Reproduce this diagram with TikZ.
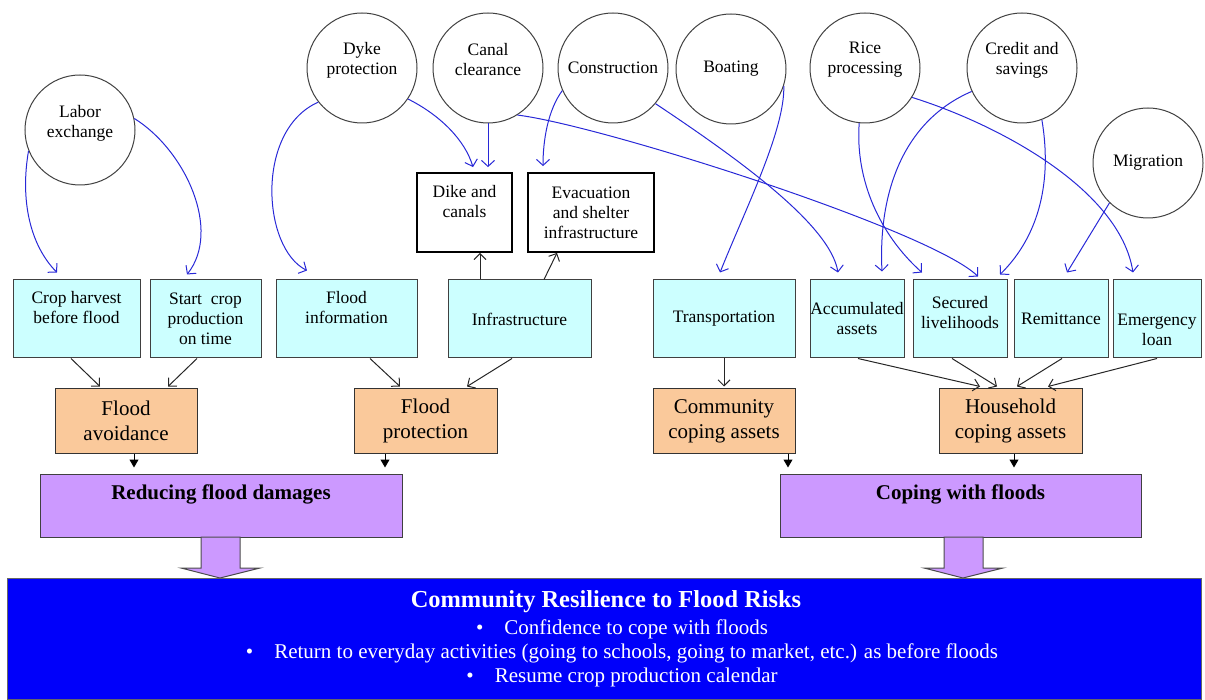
\documentclass[tikz,border=0pt]{standalone}
\usepackage{fontspec}
\setmainfont{Liberation Serif}
\usetikzlibrary{arrows.meta}
\definecolor{cyanfill}{RGB}{204,255,255}
\definecolor{peach}{RGB}{250,201,155}
\definecolor{lilac}{RGB}{204,153,255}
\definecolor{linkblue}{RGB}{40,40,215}
\definecolor{deepblue}{RGB}{0,0,250}
\newcommand\fs[2]{\fontsize{#1}{#2}\selectfont}
\tikzset{
  circ/.style={circle, draw=black!75, line width=1pt, minimum size=110pt, inner sep=0pt, align=center, font=\fs{17.5}{20}},
  lbl/.style={align=center, inner sep=0pt, font=\fs{17.5}{20}},
  dikebox/.style={draw, line width=1.8pt, minimum height=79pt, inner sep=0pt, align=center, font=\fs{17.5}{20}},
  cyanbox/.style={draw=black!75, line width=1pt, fill=cyanfill, minimum height=78pt, inner sep=0pt, align=center, font=\fs{17.5}{20}},
  peachbox/.style={draw=black!80, line width=1pt, fill=peach, minimum height=64pt, inner sep=0pt, align=center, font=\fs{21}{25}},
  lilacbox/.style={draw=black!75, line width=1pt, fill=lilac, minimum width=361pt, minimum height=63pt, inner sep=0pt},
  link/.style={linkblue, line width=1pt, -{Straight Barb[length=6pt,width=13pt]}},
  feed/.style={black!85, line width=1pt, -{Straight Barb[length=6pt,width=12pt]}},
  drop/.style={black, line width=1pt, -{Triangle[length=8pt,width=9pt]}, shorten >=6pt},
  fat/.style={fill=lilac, draw=black!70, line width=1pt},
  bullet/.style={white, inner sep=0pt, font=\fs{21}{24}},
}
\begin{document}
\begin{tikzpicture}[x=1pt,y=-1pt]
\useasboundingbox (0,0) rectangle (1205,700);

%%% activities
\node[circ] (labor) at (80,130) {};
\node[lbl] (labor-t) at (80,123) {Labor\\exchange};
\node[circ] (dyke) at (362,68) {};
\node[lbl] (dyke-t) at (362,60) {Dyke\\protection};
\node[circ] (canal) at (488,68) {};
\node[lbl] (canal-t) at (488,60) {Canal\\clearance};
\node[circ] (constr) at (613,68) {Construction};
\node[circ] (boat) at (731,69) {Boating};
\node[circ] (rice) at (865,68) {};
\node[lbl] (rice-t) at (865,60) {Rice\\processing};
\node[circ] (credit) at (1022,68) {};
\node[lbl] (credit-t) at (1022,60) {Credit and\\savings};
\node[circ] (migr) at (1148,163) {Migration};

%%% physical assets
\node[dikebox, minimum width=95pt] (dike) at (464.5,212.5) {};
\node[lbl] (dike-t) at (464.5,202) {Dike and\\canals};
\node[dikebox, minimum width=126pt] (evac) at (591,212.5) {Evacuation\\and shelter\\infrastructure};

%%% capitals
\node[cyanbox, minimum width=127pt] (harvest) at (76.5,319) {};
\node[lbl] (harvest-t) at (76.5,308) {Crop harvest\\before flood};
\node[cyanbox, minimum width=111pt] (start) at (205.5,319) {Start~ crop\\production\\on time};
\node[cyanbox, minimum width=141pt] (floodinfo) at (346.5,319) {};
\node[lbl] (floodinfo-t) at (346.5,307.5) {Flood\\information};
\node[cyanbox, minimum width=143pt] (infra) at (519.5,319) {Infrastructure};
\node[cyanbox, minimum width=142pt] (transp) at (724,319) {Transportation};
\node[cyanbox, minimum width=94pt] (accum) at (857,319) {Accumulated\\assets};
\node[cyanbox, minimum width=94pt] (secured) at (960,319) {};
\node[lbl] (secured-t) at (960,313) {Secured\\livelihoods};
\node[cyanbox, minimum width=94pt] (remit) at (1061,319) {Remittance};
\node[cyanbox, minimum width=88pt] (emerg) at (1157,319) {};
\node[lbl] (emerg-t) at (1157,330) {Emergency\\loan};

%%% strategies
\node[peachbox, minimum width=142pt] (avoid) at (126,421) {Flood\\avoidance};
\node[peachbox, minimum width=143pt] (protect) at (425.5,421) {Flood\\protection};
\node[peachbox, minimum width=142pt] (commun) at (724,421) {Community\\coping assets};
\node[peachbox, minimum width=143pt] (househ) at (1010.5,421) {Household\\coping assets};

%%% outcomes
\node[lilacbox, minimum width=362pt] (reduce) at (221,505.5) {};
\node[font=\bfseries\fs{21}{24}, inner sep=0pt] (reduce-t) at (221,494) {Reducing flood damages};
\node[lilacbox] (coping) at (960.5,505.5) {};
\node[font=\bfseries\fs{21}{24}, inner sep=0pt] (coping-t) at (960.5,494) {Coping with floods};

%%% resilience
\node[draw=black!60, fill=deepblue, minimum width=1194pt, minimum height=121pt, inner sep=0pt] (resil) at (604,639) {};
\node[white, inner sep=0pt, font=\bfseries\fs{24.4}{28}] (resil-t) at (606,602) {Community Resilience to Flood Risks};
\node[bullet] (b1) at (622,629) {\textbullet\hspace{21pt}Confidence to cope with floods};
\node[bullet] (b2) at (622,653) {\textbullet\hspace{21pt}Return to everyday activities (going to schools, going to market, etc.) as before floods};
\node[bullet] (b3) at (622,677) {\textbullet\hspace{21pt}Resume crop production calendar};

\filldraw[fat] (201,537) -- (240,537) -- (240,568) -- (260,568) -- (220,578) -- (181,568) -- (201,568) -- cycle;
\filldraw[fat] (944,537) -- (983,537) -- (983,568) -- (1003,568) -- (963,578) -- (924,568) -- (944,568) -- cycle;

%%% blue links
\draw[link] (labor.202) .. controls (20,200) and (30,245) .. ([xshift=-19.5pt,yshift=7pt]harvest.north);
\draw[link] (labor.12) .. controls (185,150) and (222,230) .. ([xshift=-18.5pt,yshift=5pt]start.north);
\draw[link] (dyke.218) .. controls (255,130) and (262,248) .. ([xshift=-39.5pt,yshift=9pt]floodinfo.north);
\draw[link] (dyke.326) .. controls (440,115) and (465,140) .. ([xshift=8.5pt,yshift=5pt]dike.north);
\draw[link] (canal.south) -- ([xshift=23.5pt,yshift=5pt]dike.north);
\draw[link] (constr.204) .. controls (548,110) and (543,140) .. ([xshift=-48pt,yshift=6pt]evac.north);
\draw[link] (canal.302) .. controls (600,125) and (930,230) .. ([xshift=18pt,yshift=3pt]secured.north);
\draw[link] (constr.320) .. controls (740,160) and (830,225) .. ([xshift=-19pt,yshift=7pt]accum.north);
\draw[link] (boat.342) .. controls (785,130) and (745,210) .. ([xshift=-4pt,yshift=7pt]transp.north);
\draw[link] (rice.264) .. controls (855,180) and (880,235) .. ([xshift=-38pt,yshift=7pt]secured.north);
\draw[link] (rice.328) .. controls (1000,125) and (1120,190) .. ([xshift=-24pt,yshift=7pt]emerg.north);
\draw[link] (credit.205) .. controls (905,120) and (878,190) .. ([xshift=25pt,yshift=8pt]accum.north);
\draw[link] (credit.291) .. controls (1052,180) and (1040,235) .. ([xshift=40pt,yshift=5pt]secured.north);
\draw[link] (migr.226) -- ([xshift=6pt,yshift=7pt]remit.north);

%%% black links
\draw[feed] ([xshift=-39.5pt]infra.north) -- ([xshift=15.5pt]dike.south);
\draw[feed] ([xshift=24.5pt]infra.north) -- ([xshift=-34pt]evac.south);
\draw[feed] ([xshift=-5.5pt]harvest.south) -- ([xshift=-26pt,yshift=2pt]avoid.north);
\draw[feed] ([xshift=-8.5pt]start.south) -- ([xshift=42pt,yshift=2pt]avoid.north);
\draw[feed] ([xshift=23.5pt]floodinfo.south) -- ([xshift=-25.5pt,yshift=2pt]protect.north);
\draw[feed] ([xshift=-7.5pt]infra.south) -- ([xshift=41.5pt,yshift=2pt]protect.north);
\draw[feed] (transp.south) -- ([yshift=2pt]commun.north);
\draw[feed] ([xshift=1pt]accum.south) -- ([xshift=-30.5pt,yshift=2pt]househ.north);
\draw[feed] ([xshift=-8pt]secured.south) -- ([xshift=-13.5pt,yshift=2pt]househ.north);
\draw[feed] ([xshift=1pt]remit.south) -- ([xshift=6.5pt,yshift=2pt]househ.north);
\draw[feed] (emerg.south) -- ([xshift=37.5pt,yshift=2pt]househ.north);

\draw[drop] ([xshift=8pt]avoid.south) -- ([xshift=8pt]avoid.south |- reduce.north);
\draw[drop] ([xshift=-40.5pt]protect.south) -- ([xshift=-40.5pt]protect.south |- reduce.north);
\draw[drop] ([xshift=64pt]commun.south) -- ([xshift=64pt]commun.south |- coping.north);
\draw[drop] ([xshift=3.5pt]househ.south) -- ([xshift=3.5pt]househ.south |- coping.north);
\end{tikzpicture}
\end{document}
